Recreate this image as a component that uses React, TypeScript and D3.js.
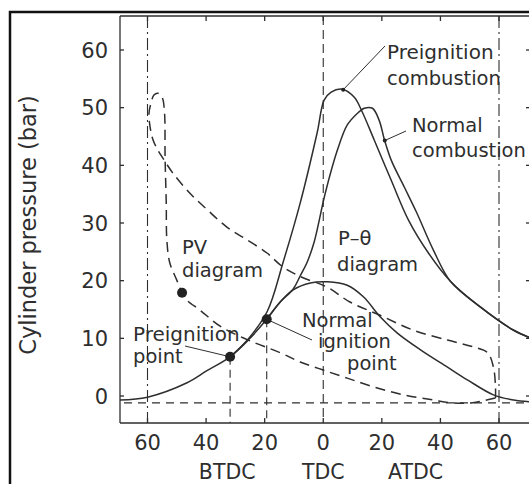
import React from 'react';
import * as d3 from 'd3';

// ---- data ----
const yTickValues = [0, 10, 20, 30, 40, 50, 60];
const xTickValues = [-60, -40, -20, 0, 20, 40, 60];
const xTickLabels = ['60', '40', '20', '0', '20', '40', '60'];
const phaseNames = ['BTDC', 'TDC', 'ATDC'];
const phaseTheta = [-32.8, 0, 31.5];

// motoring (compression / expansion without combustion) P-θ
const motoringCurve: [number, number][] = [
  [-69.4, -0.7], [-60, -0.2], [-46.5, 2.3], [-40, 4.3], [-31.8, 6.8], [-25.6, 9.7],
  [-19.3, 13.3], [-14.7, 16.3], [-10.3, 18.4], [-4.4, 19.6], [1.4, 19.8], [8.2, 19.2],
  [13.7, 17.2], [19.5, 13.7], [25.3, 10.9], [33.2, 8.0], [42.4, 5.0], [49.2, 2.8],
  [58.1, 0.2], [65, -0.7], [70.6, -1.0],
];

// preignition combustion P-θ
const preignitionCurve: [number, number][] = [
  [-31.8, 6.8], [-25.6, 9.9], [-19.1, 14.7], [-13.7, 23.2], [-7.9, 33.4], [-2.1, 45.6],
  [0.3, 51.3], [2.7, 52.7], [6.5, 53.2], [10.6, 51.8], [13.0, 49.6], [17.4, 44.4],
  [23.2, 37.4], [29.1, 30.5], [35.9, 24.8], [43.4, 19.9], [53.7, 15.4], [65, 11.4], [70.6, 10.1],
];

// normal combustion P-θ
const normalCurve: [number, number][] = [
  [-19.3, 13.3], [-14.7, 16.3], [-10.3, 18.5], [-7.9, 20.8], [-5.5, 23.2], [-3.1, 26.7],
  [0.7, 35.2], [4.8, 42.6], [8.2, 47.0], [11.6, 49.0], [14.0, 49.9], [16.8, 49.9],
  [19.1, 47.8], [20.9, 44.4], [23.2, 40.9], [27.7, 36.2], [31.8, 31.9], [37.6, 25.3],
  [43.4, 19.9], [53.7, 15.4], [65, 11.4], [70.6, 10.1],
];

// PV diagram (dashed loop)
const pvDiagram: [number, number][] = [
  [58.8, -0.35], [50.3, -1.2], [44.4, -1.2], [37.6, -0.7], [27.4, 0.2], [17.1, 1.6],
  [8.2, 3.1], [0, 4.5], [-7.9, 5.9], [-14.7, 7.5], [-25.6, 9.7], [-35.2, 12.1],
  [-42.1, 14.9], [-46.5, 16.6], [-48.2, 17.9], [-50.0, 20.1], [-52.4, 23.1], [-53.4, 27.1],
  [-53.6, 33.4], [-54.0, 41.4], [-54.2, 49.2], [-55.0, 51.8], [-56.4, 52.5], [-57.8, 52.2],
  [-58.8, 50.8], [-59.5, 49.0], [-59.1, 46.6], [-58.1, 44.4], [-56.4, 42.6], [-54.8, 41.3],
  [-51.4, 38.7], [-45.6, 35.2], [-39.6, 32.3], [-32.9, 29.3], [-26.1, 27.1], [-19.2, 24.8],
  [-14.1, 22.5], [-7.3, 20.6], [1.3, 18.9], [9.1, 16.3], [19.4, 14.0], [30.8, 11.4],
  [42.4, 9.7], [51.3, 8.5], [56.1, 7.5], [58.1, 5.0], [58.8, 1.6], [58.8, -0.35],
];

const baselineP = -1.2;
const preignitionPoint: [number, number] = [-31.8, 6.8];
const ignitionPoint: [number, number] = [-19.3, 13.3];
const pvPoint: [number, number] = [-48.2, 17.9];
const preignitionPeakDot: [number, number] = [6.8, 53.1];
const normalLeaderDot: [number, number] = [21.0, 44.3];

// ---- layout ----
const W = 529;
const H = 484;
const plot = { left: 120, right: 530, top: 16, bottom: 423 };
const INK = '#2e2e2e';
const FONT = '"DejaVu Sans", Verdana, sans-serif';

export default function App() {
  const x = d3.scaleLinear().domain([-60, 60]).range([147.5, 499]);
  const y = d3.scaleLinear().domain([0, 60]).range([396, 50]);
  const line = d3
    .line<[number, number]>()
    .x((d) => x(d[0]))
    .y((d) => y(d[1]))
    .curve(d3.curveCatmullRom.alpha(0.5));

  const px = (p: [number, number]) => [x(p[0]), y(p[1])];
  const [ppx, ppy] = px(preignitionPoint);
  const [ipx, ipy] = px(ignitionPoint);
  const [pvx, pvy] = px(pvPoint);
  const [pdx, pdy] = px(preignitionPeakDot);
  const [ndx, ndy] = px(normalLeaderDot);

  return (
    <svg
      width={W}
      height={H}
      style={{ position: 'absolute', left: 0, top: 0, background: '#fff' }}
      fontFamily={FONT}
    >
      <rect x={0} y={0} width={W} height={H} fill="#fff" />
      {/* outer frame */}
      <rect x={10} y={12} width={560} height={540} fill="none" stroke="#111" strokeWidth={2.5} />

      {/* axes box */}
      <g stroke={INK} strokeWidth={1.3} fill="none">
        <line x1={plot.left} y1={plot.top} x2={plot.left} y2={plot.bottom} />
        <line x1={plot.left} y1={plot.bottom} x2={plot.right} y2={plot.bottom} />
        <line x1={plot.left} y1={plot.top} x2={plot.right} y2={plot.top} />
        <line x1={plot.right} y1={plot.top} x2={plot.right} y2={plot.bottom} />
        {yTickValues.map((v) => (
          <g key={'yt' + v}>
            <line x1={plot.left} x2={plot.left + 4} y1={y(v)} y2={y(v)} />
            <line x1={plot.right - 4} x2={plot.right} y1={y(v)} y2={y(v)} />
          </g>
        ))}
        {xTickValues.map((v) => (
          <g key={'xt' + v}>
            <line x1={x(v)} x2={x(v)} y1={plot.bottom} y2={plot.bottom - 5} />
            <line x1={x(v)} x2={x(v)} y1={plot.top} y2={plot.top + 5} />
          </g>
        ))}
      </g>

      {/* tick labels */}
      <g fill={INK} fontSize={21}>
        {yTickValues.map((v) => (
          <text key={'yl' + v} x={108} y={y(v)} dy="0.36em" textAnchor="end">
            {v}
          </text>
        ))}
        {xTickValues.map((v, i) => (
          <text key={'xl' + v + i} x={x(v)} y={450} textAnchor="middle">
            {xTickLabels[i]}
          </text>
        ))}
        {phaseNames.map((n, i) => (
          <text key={n} x={x(phaseTheta[i])} y={479} textAnchor="middle" fontSize={20.5}>
            {n}
          </text>
        ))}
      </g>
      <text
        transform="translate(36,225) rotate(-90)"
        textAnchor="middle"
        fontSize={22.5}
        fill={INK}
      >
        Cylinder pressure (bar)
      </text>

      {/* reference lines */}
      <g stroke={INK} strokeWidth={1.1} fill="none">
        <line x1={x(-60)} x2={x(-60)} y1={plot.top} y2={plot.bottom} strokeDasharray="12,4,2,4" />
        <line x1={x(0)} x2={x(0)} y1={plot.top} y2={plot.bottom} strokeDasharray="9,5" />
        <line x1={x(60)} x2={x(60)} y1={plot.top} y2={plot.bottom} strokeDasharray="12,4,2,4" />
        <line x1={ppx} x2={ppx} y1={ppy} y2={plot.bottom} strokeDasharray="8,5" />
        <line x1={ipx} x2={ipx} y1={ipy} y2={plot.bottom} strokeDasharray="8,5" />
        <line x1={plot.left + 4} x2={plot.right} y1={y(baselineP)} y2={y(baselineP)} strokeDasharray="8,6" />
      </g>

      {/* PV diagram */}
      <path d={line(pvDiagram) || ''} fill="none" stroke={INK} strokeWidth={1.5} strokeDasharray="10,6" />

      {/* P-θ curves */}
      <g fill="none" stroke={INK} strokeWidth={1.5}>
        <path d={line(motoringCurve) || ''} />
        <path d={line(preignitionCurve) || ''} />
        <path d={line(normalCurve) || ''} />
      </g>

      {/* leaders */}
      <g stroke={INK} strokeWidth={1} fill="none">
        <line x1={pdx} y1={pdy} x2={385} y2={46} />
        <line x1={ndx} y1={ndy} x2={406} y2={131} />
        <line x1={ipx} y1={ipy} x2={312} y2={340} />
        <line x1={185} y1={346} x2={ppx} y2={ppy} />
      </g>

      {/* markers */}
      <g fill="#222">
        <circle cx={ppx} cy={ppy} r={5} />
        <circle cx={ipx} cy={ipy} r={5} />
        <circle cx={pvx} cy={pvy} r={5} />
        <circle cx={pdx} cy={pdy} r={2} />
        <circle cx={ndx} cy={ndy} r={2} />
      </g>

      {/* annotations */}
      <g fill={INK} fontSize={19.5}>
        <text x={387} y={59} fontSize={20}>Preignition</text>
        <text x={387} y={85}>combustion</text>
        <text x={412} y={132}>Normal</text>
        <text x={412} y={157}>combustion</text>
        <text x={182} y={254}>PV</text>
        <text x={182} y={277}>diagram</text>
        <text x={338} y={245}>P–θ</text>
        <text x={337} y={271}>diagram</text>
        <text x={302} y={327}>Normal</text>
        <text x={318} y={348}>ignition</text>
        <text x={347} y={370}>point</text>
        <text x={133} y={341} fontSize={20}>Preignition</text>
        <text x={133} y={363}>point</text>
      </g>
    </svg>
  );
}
